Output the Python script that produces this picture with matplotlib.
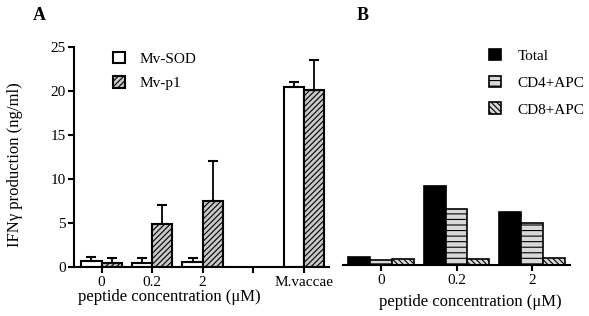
import matplotlib
matplotlib.use("Agg")
import matplotlib.pyplot as plt
import numpy as np

plt.rcParams['font.family'] = ['Liberation Serif', 'DejaVu Serif']
plt.rcParams['hatch.linewidth'] = 0.8
plt.rcParams['font.size'] = 11

# Panel A data
a_labels = ['0', '0.2', '2', '', 'M.vaccae']
a_pos = [0, 1, 2, 3, 4]
a_sod_pos = [0, 1, 2, 4]
a_sod = [0.6, 0.45, 0.5, 20.5]
a_sod_err = [0.5, 0.5, 0.5, 0.6]
a_p1_pos = [0, 1, 2, 4]
a_p1 = [0.45, 4.9, 7.5, 20.1]
a_p1_err = [0.5, 2.1, 4.5, 3.4]

# Panel B data
b_labels = ['0', '0.2', '2']
b_total = [0.9, 8.95, 5.95]
b_cd4 = [0.5, 6.4, 4.7]
b_cd8 = [0.6, 0.7, 0.8]

W, H = 589, 316
fig = plt.figure(figsize=(W/100, H/100), dpi=100)

def fx(px): return px / W
def fy(py): return 1 - py / H

# Axes A
axA = fig.add_axes([fx(74.3), fy(266.7), fx(329 - 74.3), (266.7 - 47.3) / H])
bw = 0.4
pos_sod = np.array(a_sod_pos) - bw/2
pos_p1 = np.array(a_p1_pos) + bw/2
b1 = axA.bar(pos_sod, a_sod, bw, color='white', edgecolor='black', linewidth=1.5, label='Mv-SOD')
axA.errorbar(pos_sod, a_sod, yerr=[np.zeros(len(a_sod)), a_sod_err], fmt='none',
             ecolor='black', elinewidth=1.3, capsize=3.6, capthick=1.5)
b2 = axA.bar(pos_p1, a_p1, bw, color='#c8c8c8', edgecolor='black', linewidth=1.5,
             hatch='//////', label='Mv-p1')
axA.errorbar(pos_p1, a_p1, yerr=[np.zeros(len(a_p1)), a_p1_err], fmt='none',
             ecolor='black', elinewidth=1.3, capsize=3.6, capthick=1.5)
axA.set_xlim(-0.54, 4.5)
axA.set_ylim(0, 25)
axA.set_yticks([0, 5, 10, 15, 20, 25])
axA.set_xticks(a_pos)
axA.set_xticklabels(a_labels)
for s in ['top', 'right']:
    axA.spines[s].set_visible(False)
for s in ['left', 'bottom']:
    axA.spines[s].set_linewidth(1.5)
axA.tick_params(direction='out', length=4, width=1.5, labelsize=11, pad=2)
axA.tick_params(axis='x', pad=3)
axA.set_xlabel('peptide concentration (μM)', fontsize=12)
axA.set_ylabel('IFNγ production (ng/ml)', fontsize=12)
axA.xaxis.set_label_coords(0.374, -0.14)
axA.xaxis.label.set_verticalalignment('center')
axA.yaxis.set_label_coords(-0.233, 0.464)
axA.yaxis.label.set_verticalalignment('center')
legA = axA.legend(handles=[b1, b2], loc='upper left', bbox_to_anchor=(fx(99), fy(38)),
                  bbox_transform=fig.transFigure, frameon=False, fontsize=11,
                  handlelength=0.8, handleheight=0.8, handletextpad=0.95, labelspacing=0.68)

# Axes B
axB = fig.add_axes([fx(343), fy(264.7), fx(570 - 343), (219.5) / H])
bw2 = 0.29
x = np.arange(len(b_labels))
t = axB.bar(x - bw2, b_total, bw2, color='black', edgecolor='black', linewidth=1.2, label='Total')
c4 = axB.bar(x, b_cd4, bw2, color='#d8d8d8', edgecolor='black', linewidth=1.2,
             hatch='---', label='CD4+APC')
c8 = axB.bar(x + bw2, b_cd8, bw2, color='#d8d8d8', edgecolor='black', linewidth=1.2,
             hatch='\\\\\\\\\\\\', label='CD8+APC')
axB.set_xlim(-0.5, 2.5)
axB.set_ylim(0, 25)
axB.set_xticks(x)
axB.set_xticklabels(b_labels)
axB.set_yticks([])
for s in ['top', 'right', 'left']:
    axB.spines[s].set_visible(False)
axB.spines['bottom'].set_linewidth(1.5)
axB.tick_params(direction='out', length=4, width=1.5, labelsize=11, pad=3)
axB.set_xlabel('peptide concentration (μM)', fontsize=12)
axB.xaxis.set_label_coords(0.559, -0.17)
axB.xaxis.label.set_verticalalignment('center')
legB = axB.legend(handles=[t, c4, c8], loc='upper left', bbox_to_anchor=(fx(475), fy(35)),
                  bbox_transform=fig.transFigure, frameon=False, fontsize=11,
                  handlelength=0.8, handleheight=0.8, handletextpad=1.1, labelspacing=0.83)

fig.text(fx(39), fy(16), 'A', fontsize=13, fontweight='bold', ha='center', va='center')
fig.text(fx(363), fy(16), 'B', fontsize=13, fontweight='bold', ha='center', va='center')

fig.savefig('out.png', dpi=100)
